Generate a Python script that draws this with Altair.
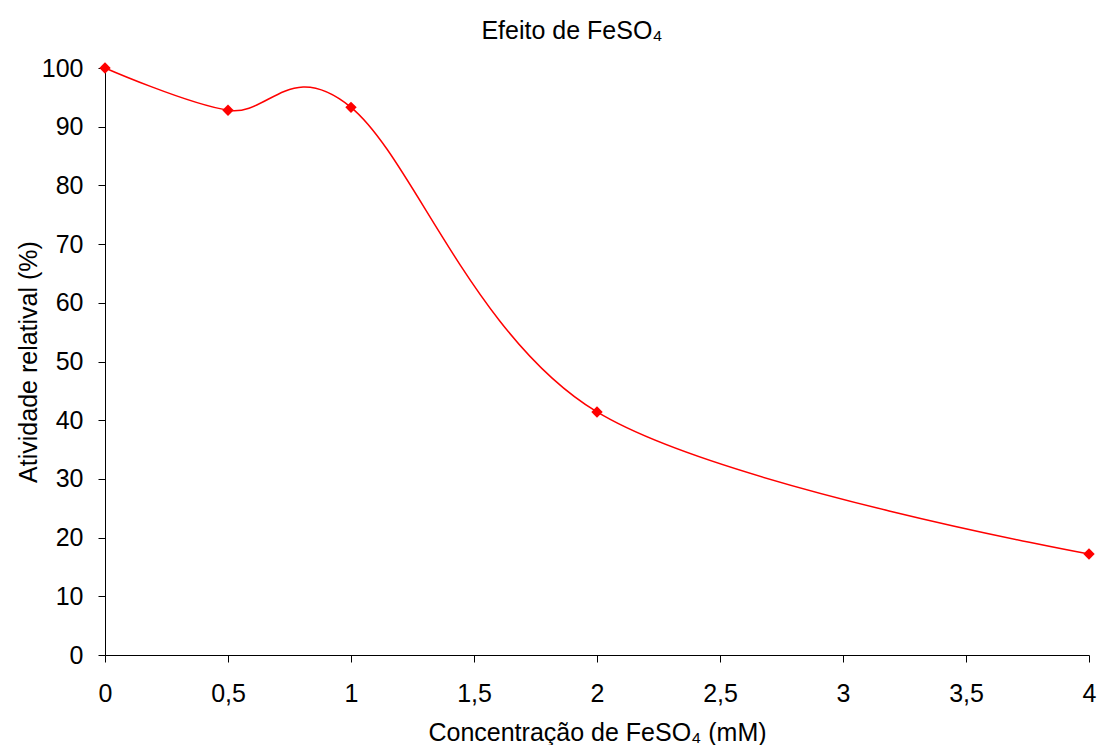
import altair as alt
import pandas as pd

conc = [0, 0.5, 1, 2, 4]
atividade = [100, 92.8, 93.3, 41.4, 17.2]
x_ticks = [0, 0.5, 1, 1.5, 2, 2.5, 3, 3.5, 4]
y_ticks = list(range(0, 101, 10))

df = pd.DataFrame({"conc": conc, "atividade": atividade})

font = "Liberation Sans"
fs = 25

x = alt.X("conc:Q",
          scale=alt.Scale(domain=[0, 4], nice=False, zero=False),
          axis=alt.Axis(values=x_ticks, title="Concentração de FeSO₄ (mM)",
                        labelExpr="replace(format(datum.value, '~g'), '.', ',')",
                        grid=False, tickSize=7, labelPadding=19, titlePadding=14,
                        labelFlush=False,
                        labelFontSize=fs, titleFontSize=fs, titleFontWeight="normal",
                        labelFont=font, titleFont=font, labelColor="#000", titleColor="#000",
                        domainColor="#000", tickColor="#000"))
y = alt.Y("atividade:Q",
          scale=alt.Scale(domain=[0, 100], nice=False),
          axis=alt.Axis(values=y_ticks, title="Atividade relatival (%)",
                        grid=False, tickSize=7, labelPadding=15, titlePadding=0,
                        labelFlush=False,
                        labelFontSize=fs, titleFontSize=fs, titleFontWeight="normal",
                        labelFont=font, titleFont=font, labelColor="#000", titleColor="#000",
                        domainColor="#000", tickColor="#000"))

base = alt.Chart(df)
line = base.mark_line(color="#FF0000", strokeWidth=1.5, interpolate="cardinal", tension=0).encode(x=x, y=y)
pts = base.mark_point(shape="diamond", filled=True, color="#FF0000", size=130, opacity=1).encode(x=x, y=y)

chart = (line + pts).properties(
    width=984, height=587,
    title=alt.Title("Efeito de FeSO₄", font=font, fontSize=fs, fontWeight="normal", color="#000",
                    offset=12, dx=-25),
    autosize=alt.AutoSizeParams(type="none"),
    padding={"left": 97, "top": 60, "right": 10, "bottom": 90},
).configure_view(stroke=None)

chart.save("out.html", embed_options={"renderer": "svg", "actions": False})
